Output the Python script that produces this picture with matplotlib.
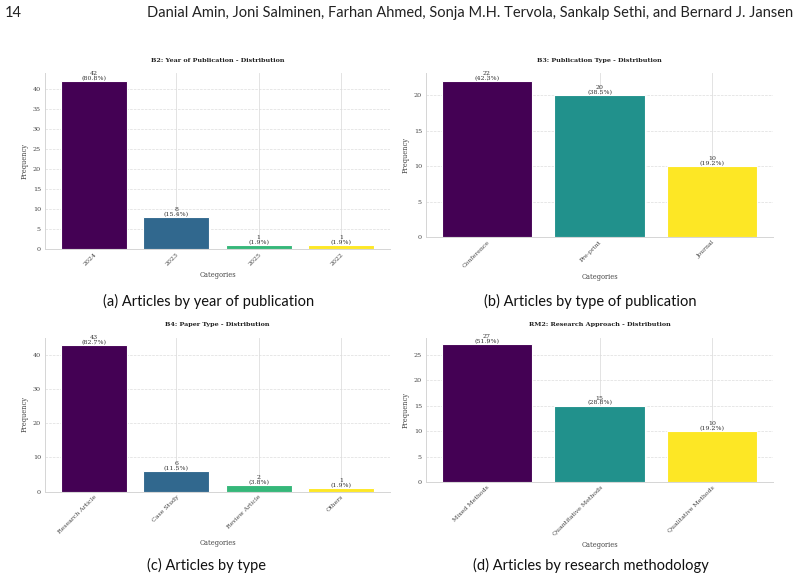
import numpy as np
import matplotlib
matplotlib.use("Agg")
import matplotlib.pyplot as plt
from matplotlib.ticker import MultipleLocator

# ==========================
# DATA
# ==========================
b2_titles = "B2: Year of Publication - Distribution"
b2_cats = ["2024", "2023", "2025", "2022"]
b2_vals = [42, 8, 1, 1]

b3_titles = "B3: Publication Type - Distribution"
b3_cats = ["Conference", "Pre-print", "Journal"]
b3_vals = [22, 20, 10]

b4_titles = "B4: Paper Type - Distribution"
b4_cats = ["Research Article", "Case Study", "Review Article", "Others"]
b4_vals = [43, 6, 2, 1]

rm2_titles = "RM2: Research Approach - Distribution"
rm2_cats = ["Mixed Methods", "Quantitative Methods", "Qualitative Methods"]
rm2_vals = [27, 15, 10]

captions = ["(a) Articles by year of publication", "(b) Articles by type of publication",
            "(c) Articles by type", "(d) Articles by research methodology"]
header_page = "14"
header_authors = ("Danial Amin, Joni Salminen, Farhan Ahmed, Sonja M.H. Tervola, "
                  "Sankalp Sethi, and Bernard J. Jansen")

# ==========================
# FIGURE
# ==========================
W, H = 800, 582
fig = plt.figure(figsize=(W / 100, H / 100), dpi=100)
fig.patch.set_facecolor("white")

def px_rect(l, t, r, b):
    return [l / W, 1 - b / H, (r - l) / W, (b - t) / H]

def draw_panel(rect, title, cats, vals, step):
    ax = fig.add_axes(px_rect(*rect))
    n = len(cats)
    colors = plt.cm.viridis(np.linspace(0, 1, n))
    x = np.arange(n)
    bars = ax.bar(x, vals, width=0.8, color=colors, edgecolor="white", linewidth=0.8, zorder=3)
    total = sum(vals)
    for b, v in zip(bars, vals):
        ax.text(b.get_x() + b.get_width() / 2, b.get_height(), f"{v}\n({v / total * 100:.1f}%)",
                ha="center", va="bottom", fontsize=4.5, color="#333333",
                family="DejaVu Serif", linespacing=0.95, zorder=4)
    ax.set_xticks(x)
    ax.set_xticklabels(cats, rotation=45, ha="right", fontsize=4.5, family="DejaVu Serif",
                       color="#444444", rotation_mode="anchor")
    ax.yaxis.set_major_locator(MultipleLocator(step))
    for lab in ax.get_yticklabels():
        lab.set_family("DejaVu Serif")
    ax.tick_params(axis="y", labelsize=4.6, labelcolor="#444444", length=0, pad=3)
    ax.tick_params(axis="x", length=0, pad=2)
    ax.set_title(title, fontsize=4.6, fontweight="bold", family="DejaVu Serif", color="#222222", pad=8)
    ax.set_xlabel("Categories", fontsize=4.8, family="DejaVu Serif", color="#444444", labelpad=3)
    ax.set_ylabel("Frequency", fontsize=4.8, family="DejaVu Serif", color="#444444", labelpad=3)
    ax.grid(axis="x", color="#e3e3e3", linewidth=0.7, linestyle="-", zorder=0)
    ax.grid(axis="y", color="#dddddd", linewidth=0.5, linestyle="--", zorder=0)
    for s in ["top", "right"]:
        ax.spines[s].set_visible(False)
    for s in ["left", "bottom"]:
        ax.spines[s].set_color("#d5d5d5")
        ax.spines[s].set_linewidth(0.7)
    return ax

draw_panel((45, 73, 390, 249), b2_titles, b2_cats, b2_vals, 5)
draw_panel((426, 73, 773, 237), b3_titles, b3_cats, b3_vals, 5)
draw_panel((45, 337.5, 390, 491.5), b4_titles, b4_cats, b4_vals, 10)
draw_panel((426, 337.5, 773, 482), rm2_titles, rm2_cats, rm2_vals, 5)

# captions & page header
cap_font = ["Lato", "DejaVu Sans"]
fig.text(209 / W, 1 - 301 / H, captions[0], ha="center", va="center", fontsize=10.5, family=cap_font, color="#111111")
fig.text(590 / W, 1 - 301 / H, captions[1], ha="center", va="center", fontsize=10.5, family=cap_font, color="#111111")
fig.text(207 / W, 1 - 565 / H, captions[2], ha="center", va="center", fontsize=10.5, family=cap_font, color="#111111")
fig.text(591 / W, 1 - 565 / H, captions[3], ha="center", va="center", fontsize=10.5, family=cap_font, color="#111111")
fig.text(5 / W, 1 - 13 / H, header_page, ha="left", va="center", fontsize=10.5, family=cap_font, color="#222222")
fig.text(793 / W, 1 - 13 / H, header_authors, ha="right", va="center", fontsize=10.5, family=cap_font, color="#222222")

fig.savefig("out.png", dpi=100)
